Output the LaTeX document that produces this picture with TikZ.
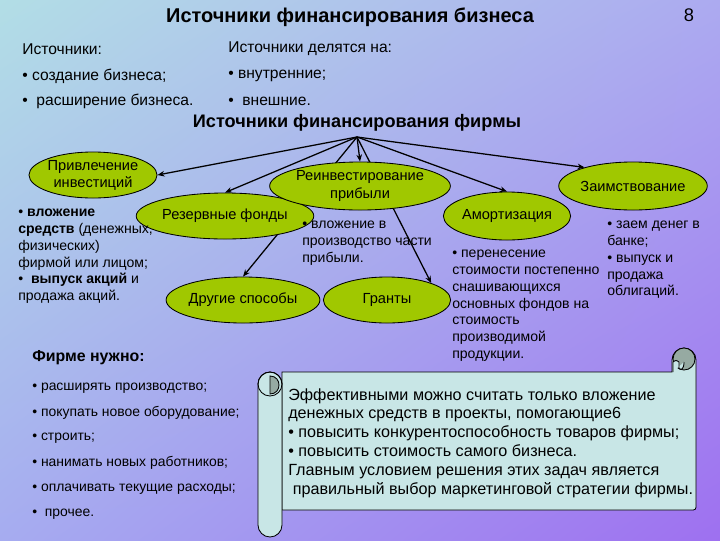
\documentclass[tikz,border=0pt]{standalone}
\usepackage{fontspec}
\setmainfont{Liberation Sans}
\usetikzlibrary{shapes.geometric,arrows.meta,shadings}

\definecolor{bgtl}{RGB}{178,222,230}
\definecolor{bgtr}{RGB}{172,170,240}
\definecolor{bgbl}{RGB}{166,172,240}
\definecolor{bgbr}{RGB}{158,112,240}
\definecolor{leaf}{RGB}{160,200,0}
\definecolor{scrollfill}{RGB}{200,230,230}
\definecolor{curlgray}{RGB}{150,170,162}

\pgfdeclarelayer{bg}
\pgfdeclarelayer{links}
\pgfsetlayers{bg,links,main}

\tikzset{
  oval/.style={ellipse, draw=black, line width=0.6pt, fill=leaf, inner sep=0pt,
    minimum width=3.18cm, minimum height=1.15cm, align=center,
    font=\fontsize{10.4}{12.2}\selectfont},
  link/.style={line width=0.9pt, -{Stealth[length=5pt,width=4pt]}},
  line/.style={anchor=west, inner sep=0pt, font=\fontsize{11.1}{13}\selectfont},
  note/.style={anchor=north west, align=left, inner sep=0pt,
    font=\fontsize{10}{11.9}\selectfont},
  need/.style={anchor=west, inner sep=0pt, font=\fontsize{9.9}{11}\selectfont},
}

\begin{document}
\begin{tikzpicture}[x=0.025cm, y=-0.025cm]
  \begin{pgfonlayer}{bg}
    \shade[upper left=bgtl, upper right=bgtr, lower left=bgbl, lower right=bgbr]
      (0,0) rectangle (720,540);
  \end{pgfonlayer}

  % headings
  \node[font=\bfseries\fontsize{14.2}{16}\selectfont] (title) at (350,17) {Источники финансирования бизнеса};
  \node[font=\fontsize{13}{15}\selectfont] (pagenum) at (689,15) {8};
  \node[line] (src) at (22,49) {Источники:};
  \node[line] (split) at (228,49) {Источники делятся на:};
  \node[line] (create) at (22,76) {• создание бизнеса;};
  \node[line] (expand) at (22,101) {•\ \ расширение бизнеса.};
  \node[line] (inner) at (228,76) {• внутренние;};
  \node[line] (outer) at (228,101) {•\ \ внешние.};
  \node[font=\bfseries\fontsize{12.9}{15}\selectfont] (firm) at (357,123) {Источники финансирования фирмы};

  % sources
  \coordinate (hub) at (357,137);
  \node[oval] (invest) at (93,175) {Привлечение\\инвестиций};
  \node[oval] (reserve) at (225,216) {Резервные фонды};
  \node[oval] (other) at (243,300) {Другие способы};
  \node[oval, minimum width=3.6cm, minimum height=1.2cm] (reinvest) at (360,186) {Реинвестирование\\прибыли};
  \node[oval] (grants) at (387,300) {Гранты};
  \node[oval, minimum height=1.2cm] (amort) at (507,216) {Амортизация};
  \node[oval, minimum height=1.2cm] (borrow) at (633,186) {Заимствование};

  \begin{pgfonlayer}{links}
    \draw[link] (hub) -- (invest.east);
    \draw[link] (hub) -- (reserve.north);
    \draw[link] (hub) -- (other.north);
    \draw[link] (hub) -- (reinvest.north);
    \draw[link] (hub) -- (grants.21);
    \draw[link] (hub) -- (amort.north);
    \draw[link] (hub) -- (borrow.159);
  \end{pgfonlayer}

  % notes
  \node[note] (investnote) at (18,209) {• \textbf{вложение}\\\textbf{средств} (денежных,\\физических)\\фирмой или лицом;\\•\ \ \textbf{выпуск акций} и\\продажа акций.};
  \node[note] (reinvestnote) at (302,221) {• вложение в\\производство части\\прибыли.};
  \node[note] (amortnote) at (452,250) {• перенесение\\стоимости постепенно\\снашивающихся\\основных фондов на\\стоимость\\производимой\\продукции.};
  \node[note] (borrownote) at (607,221) {• заем денег в\\банке;\\• выпуск и\\продажа\\облигаций.};

  % needs
  \node[need, font=\bfseries\fontsize{11.3}{12}\selectfont] (needs) at (32,358) {Фирме нужно:};
  \node[need] (n1) at (32,388) {• расширять производство;};
  \node[need] (n2) at (32,413) {• покупать новое оборудование;};
  \node[need] (n3) at (32,438) {• строить;};
  \node[need] (n4) at (32,463) {• нанимать новых работников;};
  \node[need] (n5) at (32,489) {• оплачивать текущие расходы;};
  \node[need] (n6) at (32,514) {•\ \ прочее.};

  % scroll
  \filldraw[fill=scrollfill, line width=0.6pt] (282,372) -- (672,372) -- (672,360)
    .. controls (672,353.4) and (677.4,348) .. (684,348)
    .. controls (690.6,348) and (696,353.4) .. (696,360)
    -- (696,504) .. controls (696,510) .. (690,510) -- (282,510) -- cycle;
  \filldraw[fill=curlgray, line width=0.6pt] (684,359) circle (11);
  \filldraw[fill=scrollfill, line width=0.6pt] (673,372) -- (673,362)
    .. controls (676,360) .. (679,362) -- (679,368) .. controls (681,371) and (684,369) .. (684,362);
  \filldraw[fill=scrollfill, line width=0.6pt, rounded corners=0.3cm] (258,372) rectangle (282,537);
  \draw[line width=0.6pt] (270,384) circle (12);
  \filldraw[fill=curlgray, line width=0.6pt] (270,376) .. controls (282,376) and (282,394) .. (270,394) -- cycle;
  \node[anchor=north west, align=left, inner sep=0pt, font=\fontsize{11.5}{13.5}\selectfont] (advice) at (288,388)
    {Эффективными можно считать только вложение\\денежных средств в проекты, помогающие6\\• повысить конкурентоспособность товаров фирмы;\\• повысить стоимость самого бизнеса.\\Главным условием решения этих задач является\\\ правильный выбор маркетинговой стратегии фирмы.};
\end{tikzpicture}
\end{document}
